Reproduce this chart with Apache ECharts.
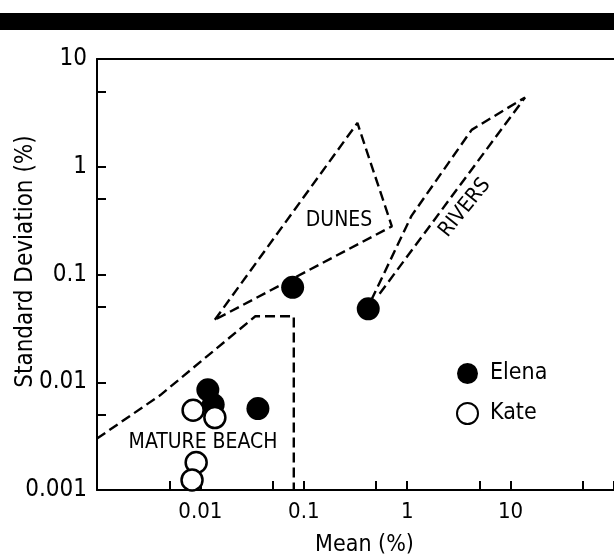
<!DOCTYPE html>
<html>
<head>
<meta charset="utf-8">
<script src="https://cdn.jsdelivr.net/npm/echarts@6/dist/echarts.min.js"></script>
<style>
html,body{margin:0;padding:0;background:#fff;}
#c{width:614px;height:556px;}
</style>
</head>
<body>
<div id="c"></div>
<script>
// ---- data ----
var elena = [[0.078, 0.076], [0.42, 0.048], [0.0118, 0.0085], [0.0133, 0.0062], [0.036, 0.0057]];
var kate = [[0.0085, 0.0055], [0.0138, 0.0047], [0.0091, 0.0018], [0.0083, 0.00124]];
var dunes = [[0.0138, 0.038], [0.33, 2.55], [0.71, 0.28], [0.0138, 0.038]];
var rivers = [[0.45, 0.058], [1.1, 0.35], [4.2, 2.2], [13.8, 4.4], [0.52, 0.063]];
var matureBeach = [[0.001, 0.0030], [0.0041, 0.0076], [0.034, 0.041], [0.08, 0.041], [0.08, 0.001]];
var regionLabels = [
  {name: 'DUNES', value: [0.219, 0.314], rot: 0},
  {name: 'RIVERS', value: [3.62, 0.415], rot: 51},
  {name: 'MATURE BEACH', value: [0.0106, 0.00275], rot: 0}
];
var xRange = [0.001, 100];
var yRange = [0.001, 10];
var xLabels = {'0.01': '0.01', '0.1': '0.1', '1': '1', '10': '10'};
var yLabels = {'0.001': '0.001', '0.01': '0.01', '0.1': '0.1', '1': '1', '10': '10'};

var FONT = "'Liberation Sans Narrow','DejaVu Sans Condensed','Arial Narrow',sans-serif";
var chart = echarts.init(document.getElementById('c'), null, {renderer: 'canvas'});

function fmt(v, table) {
  var k = String(Number(v.toPrecision(6)));
  return table.hasOwnProperty(k) ? table[k] : '';
}

var dash = {color: '#000', width: 2.4, type: [10, 5]};

chart.setOption({
  animation: false,
  backgroundColor: '#fff',
  graphic: [{type: 'rect', shape: {x: 0, y: 13, width: 614, height: 17}, style: {fill: '#000'}}],
  grid: {left: 97, right: 0, top: 59, bottom: 66, outerBoundsMode: 'none', containLabel: false},
  legend: {
    orient: 'vertical', left: 451, top: 357, itemWidth: 21, itemHeight: 21, itemGap: 17,
    textStyle: {fontFamily: FONT, fontSize: 23, color: '#000', padding: [0, 0, 0, 7]},
    data: [{name: 'Elena', icon: 'circle'}, {name: 'Kate', icon: 'circle'}]
  },
  xAxis: [
    {type: 'log', logBase: 10, min: xRange[0], max: xRange[1], position: 'bottom',
     name: 'Mean (%)', nameLocation: 'middle', nameGap: 44, nameMoveOverlap: false,
     nameTextStyle: {fontFamily: FONT, fontSize: 23, color: '#000', padding: [0, 0, 0, 18]},
     axisLine: {onZero: false, lineStyle: {color: '#000', width: 2}},
     axisTick: {inside: true, length: 9, lineStyle: {color: '#000', width: 2}},
     axisLabel: {margin: 11, fontFamily: FONT, fontSize: 22, color: '#000', formatter: function (v) { return fmt(v, xLabels); }},
     splitLine: {show: false}},
    {type: 'log', logBase: 10, min: xRange[0] * 2, max: xRange[1] * 2, position: 'bottom',
     axisLine: {show: false, onZero: false}, axisLabel: {show: false},
     axisTick: {inside: true, length: 9, lineStyle: {color: '#000', width: 2}}, splitLine: {show: false}},
    {type: 'log', logBase: 10, min: xRange[0], max: xRange[1], position: 'top',
     axisLine: {onZero: false, lineStyle: {color: '#000', width: 2}}, axisTick: {show: false},
     axisLabel: {show: false}, splitLine: {show: false}}
  ],
  yAxis: [
    {type: 'log', logBase: 10, min: yRange[0], max: yRange[1], position: 'left',
     name: 'Standard Deviation (%)', nameLocation: 'middle', nameGap: 59, nameRotate: 90, nameMoveOverlap: false,
     nameTextStyle: {fontFamily: FONT, fontSize: 24, color: '#000', padding: [0, 0, 0, 26]},
     axisLine: {onZero: false, lineStyle: {color: '#000', width: 2}},
     axisTick: {inside: true, length: 9, lineStyle: {color: '#000', width: 2}},
     axisLabel: {margin: 10, fontFamily: FONT, fontSize: 24, color: '#000', formatter: function (v) { return fmt(v, yLabels); }},
     splitLine: {show: false}},
    {type: 'log', logBase: 10, min: yRange[0] * 2, max: yRange[1] * 2, position: 'left',
     axisLine: {show: false, onZero: false}, axisLabel: {show: false},
     axisTick: {inside: true, length: 9, lineStyle: {color: '#000', width: 2}}, splitLine: {show: false}}
  ],
  series: [
    {type: 'line', name: 'dunes', data: dunes, symbol: 'none', lineStyle: dash, silent: true},
    {type: 'line', name: 'rivers', data: rivers, symbol: 'none', lineStyle: dash, silent: true},
    {type: 'line', name: 'matureBeach', data: matureBeach, symbol: 'none', lineStyle: dash, silent: true},
    {type: 'scatter', name: 'labels', silent: true, data: regionLabels.map(function (d) {
        return {name: d.name, value: d.value, label: {rotate: d.rot}};
      }),
     symbolSize: 0,
     label: {show: true, position: [0, 0], align: 'center', verticalAlign: 'middle', formatter: '{b}',
             fontFamily: FONT, fontSize: 21, color: '#000', textBorderWidth: 0, opacity: 1}},
    {type: 'scatter', name: 'Elena', data: elena, symbol: 'circle', symbolSize: 23,
     itemStyle: {color: '#000', opacity: 1}, z: 3},
    {type: 'scatter', name: 'Kate', data: kate, symbol: 'circle', symbolSize: 21,
     itemStyle: {color: '#fff', borderColor: '#000', borderWidth: 2.5, opacity: 1}, z: 4}
  ]
});
</script>
</body>
</html>
